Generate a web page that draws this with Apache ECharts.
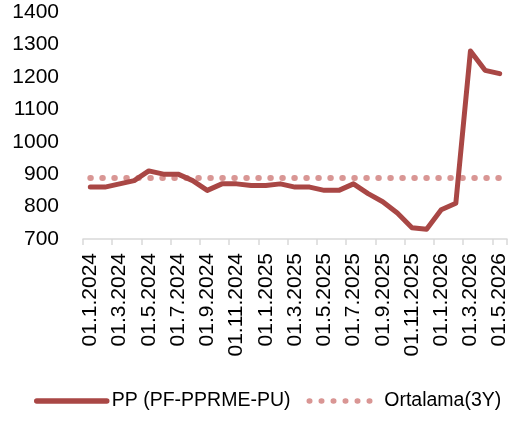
<!DOCTYPE html>
<html>
<head>
<meta charset="utf-8">
<script src="https://cdn.jsdelivr.net/npm/echarts@6/dist/echarts.min.js"></script>
<style>html,body{margin:0;padding:0;background:#fff}#c{width:527px;height:428px}</style>
</head>
<body>
<div id="c"></div>
<script>
const categories = [
  '01.1.2024','01.2.2024','01.3.2024','01.4.2024','01.5.2024','01.6.2024','01.7.2024','01.8.2024',
  '01.9.2024','01.10.2024','01.11.2024','01.12.2024','01.1.2025','01.2.2025','01.3.2025','01.4.2025',
  '01.5.2025','01.6.2025','01.7.2025','01.8.2025','01.9.2025','01.10.2025','01.11.2025','01.12.2025',
  '01.1.2026','01.2.2026','01.3.2026','01.4.2026','01.5.2026'
];
const ppValues = [860,860,870,880,910,900,900,880,850,870,870,865,865,870,860,860,850,850,870,840,815,780,735,730,790,810,1280,1220,1210];
const avgValue = 888;
const avgValues = categories.map(() => avgValue);
const yTicks = { min: 700, max: 1400, interval: 100 };

const chart = echarts.init(document.getElementById('c'), null, { renderer: 'canvas' });
const font = 'Liberation Sans';
chart.setOption({
  animation: false,
  grid: { left: 83, right: 20, top: 12, bottom: 189, containLabel: false },
  xAxis: {
    type: 'category',
    data: categories,
    boundaryGap: true,
    axisLine: { show: true, lineStyle: { color: '#d9d9d9', width: 1.5 } },
    axisTick: { show: true, interval: 1, length: 6, lineStyle: { color: '#d9d9d9', width: 1.5 } },
    axisLabel: { interval: 1, rotate: 90, margin: 14, color: '#000', fontFamily: font, fontSize: 21, hideOverlap: false }
  },
  yAxis: {
    type: 'value',
    min: yTicks.min, max: yTicks.max, interval: yTicks.interval,
    axisLine: { show: false },
    axisTick: { show: false },
    splitLine: { show: false },
    axisLabel: { margin: 24, color: '#000', fontFamily: font, fontSize: 21, formatter: v => String(v) }
  },
  legend: {
    bottom: 12,
    left: 29,
    itemWidth: 70,
    itemHeight: 14,
    itemGap: 16,
    textStyle: { color: '#000', fontFamily: font, fontSize: 19.5 },
    itemStyle: { opacity: 0 },
    lineStyle: { width: 5.5 },
    data: ['PP (PF-PPRME-PU)', 'Ortalama(3Y)']
  },
  series: [
    {
      name: 'Ortalama(3Y)',
      type: 'line',
      data: avgValues,
      symbol: 'none',
      z: 2,
      lineStyle: { color: '#d99694', width: 6, type: [0.5, 11.5], cap: 'round' },
      itemStyle: { color: '#d99694' }
    },
    {
      name: 'PP (PF-PPRME-PU)',
      type: 'line',
      data: ppValues,
      symbol: 'none',
      z: 3,
      lineStyle: { color: '#a94745', width: 5, cap: 'round', join: 'round' },
      itemStyle: { color: '#a94745' }
    }
  ]
});
</script>
</body>
</html>
